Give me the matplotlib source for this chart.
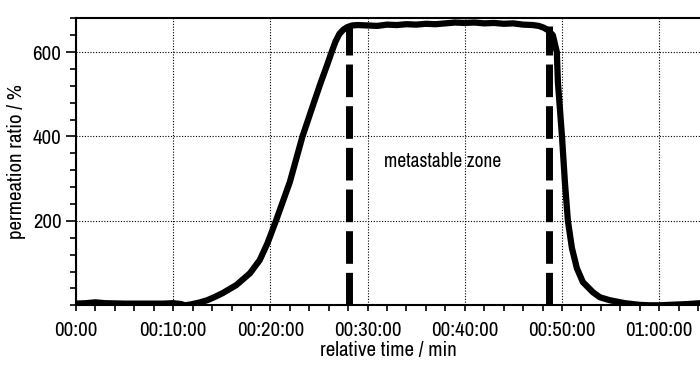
import matplotlib
matplotlib.use('Agg')
import matplotlib.pyplot as plt
from matplotlib import font_manager
from matplotlib.ticker import FixedLocator, MultipleLocator

# the reference uses a narrow Arial-like font
names = set(f.name for f in font_manager.fontManager.ttflist)
if 'Liberation Sans Narrow' in names:
    font, fs = 'Liberation Sans Narrow', 15
elif 'Archivo Narrow' in names:
    font, fs = 'Archivo Narrow', 15
else:
    font, fs = 'Liberation Sans', 12.5
plt.rcParams['font.family'] = [font, 'DejaVu Sans']

# permeation ratio curve, time in minutes
time_min = [0, 1, 2, 3, 5, 7, 9, 10, 10.8, 11.2, 11.8, 12.6, 13.5, 14.3, 15.1,
            16.5, 17.9, 18.9, 19.7, 20.6, 22.0, 23.3, 24.5, 25.2, 25.8, 26.3,
            26.7, 27.1, 27.5, 27.9, 28.4, 29, 30, 31, 32, 33, 34, 35, 36, 37,
            38, 39, 40, 41, 42, 43, 44, 45, 46, 47, 47.6, 48.1, 48.55, 49.06,
            49.47, 49.58, 50.0, 50.3, 50.61, 51.02, 51.53, 52.15, 53.18, 53.9,
            54.93, 56.47, 58.0, 59, 60, 61, 62, 63, 64.2]
ratio = [4, 5, 7, 5, 4, 4, 4, 5, 3, 0, 2, 6, 12, 20, 29,
         48, 76, 107, 147, 202, 292, 400, 482, 529, 567, 600,
         625, 643, 653, 659, 663, 664, 663, 662, 665, 664, 666, 665, 667, 666,
         668, 670, 669, 670, 668, 669, 667, 668, 665, 664, 662, 658, 652, 640,
         600, 529, 400, 292, 200, 136, 88, 55, 31, 19,
         12, 5, 1, 0, 0, 1, 2, 3, 5]

# borders of the metastable zone
zone_start = 28.1
zone_end = 48.7
zone_top = 662

tick_pos = [0, 10, 20, 30, 40, 50, 60]
tick_labels = ['00:00', '00:10:00', '00:20:00', '00:30:00', '00:40:00',
               '00:50:00', '01:00:00']

fig = plt.figure(figsize=(7, 3.65), dpi=100)
ax = fig.add_axes([76 / 700, 59.7 / 365, 624 / 700, 287 / 365])

ax.plot(time_min, ratio, c='black', linewidth=4.5, solid_capstyle='round',
        solid_joinstyle='round', zorder=3)
for xz in [zone_start, zone_end]:
    ax.plot([xz, xz], [0, zone_top], c='black', linewidth=5,
            dashes=(4.7, 1.3), dash_capstyle='butt', zorder=4)

ax.text(37.7, 340, 'metastable zone', fontsize=fs - 1, ha='center', va='center')

ax.set_xlim(0, 64.2)
ax.set_ylim(0, 680)
ax.xaxis.set_major_locator(FixedLocator(tick_pos))
ax.set_xticklabels(tick_labels)
ax.xaxis.set_minor_locator(MultipleLocator(2))
ax.yaxis.set_major_locator(FixedLocator([200, 400, 600]))
ax.yaxis.set_minor_locator(MultipleLocator(40))

ax.grid(True, which='major', color='black', linestyle=(0, (1, 1.5)), linewidth=0.8)
ax.tick_params(axis='both', which='major', labelsize=fs, width=1.2, color='black')
ax.tick_params(axis='x', which='both', length=4, width=1.2)
ax.tick_params(axis='y', which='major', length=7)
ax.tick_params(axis='y', which='minor', length=4.5, width=1.2)
ax.tick_params(axis='x', which='major', pad=7)

for s in ['left', 'bottom', 'top']:
    ax.spines[s].set_linewidth(1.5)
ax.spines['right'].set_visible(False)

ax.set_xlabel('relative time / min', size=fs, labelpad=1)
ax.set_ylabel('permeation ratio / %', size=fs, labelpad=5)

fig.savefig('out.png', dpi=100)
